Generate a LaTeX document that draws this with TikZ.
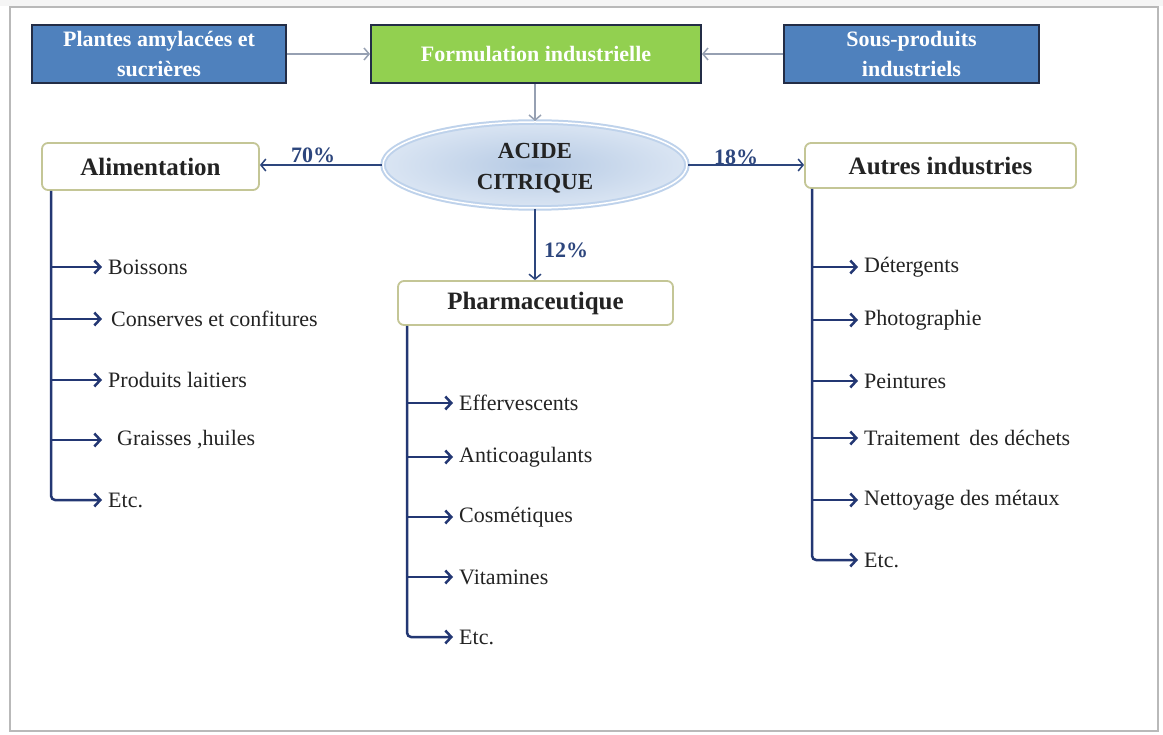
\documentclass[tikz,border=0pt]{standalone}
\usepackage{fontspec}
\setmainfont{Liberation Serif}
\usetikzlibrary{arrows.meta,shapes.geometric}
\definecolor{boxblue}{RGB}{79,129,189}
\definecolor{boxgreen}{RGB}{146,208,80}
\definecolor{boxedge}{RGB}{35,45,70}
\definecolor{navy}{RGB}{35,55,115}
\definecolor{pctblue}{RGB}{45,70,125}
\definecolor{arrgray}{RGB}{150,160,178}
\definecolor{hdrborder}{RGB}{196,198,150}
\definecolor{ellin}{RGB}{182,202,228}
\definecolor{ellout}{RGB}{218,229,243}
\definecolor{ellrim}{RGB}{190,210,235}
\definecolor{txt}{RGB}{35,35,35}
\definecolor{frame}{RGB}{185,185,185}
\begin{document}
\begin{tikzpicture}[x=1pt,y=-1pt,
  topbox/.style={draw=boxedge, line width=2pt, minimum height=58pt, text=white,
    font=\fontsize{22}{30}\selectfont\bfseries, align=center, inner sep=2pt},
  hdr/.style={draw=hdrborder, line width=1.8pt, rounded corners=6pt, fill=white,
    font=\fontsize{25}{28}\selectfont\bfseries, text=txt},
  item/.style={anchor=west, inner xsep=6pt, inner ysep=0pt,
    font=\fontsize{22}{24}\selectfont, text=txt},
  branch/.style={draw=navy, line width=2.5pt, rounded corners=4pt,
    -{Straight Barb[length=6pt,width=13pt]}},
  grayarrow/.style={draw=arrgray, line width=1.5pt, -{Straight Barb[length=5pt,width=12pt]}},
  pctarrow/.style={draw=pctblue, line width=1.5pt, -{Straight Barb[length=5pt,width=12pt]}},
  pct/.style={font=\fontsize{22}{24}\selectfont\bfseries, text=pctblue}]
\useasboundingbox (0,0) rectangle (1163,735);
\fill[white] (0,0) rectangle (1163,735);
\fill[gray!8] (0,0) rectangle (1163,6);
\draw[frame, line width=1.5pt] (10,7) rectangle (1158,731);

% top row
\node[topbox, fill=boxblue, minimum width=254pt] (plantes) at (159,54) {Plantes amylacées et\\sucrières};
\node[topbox, fill=boxgreen, minimum width=330pt] (formul) at (536,54) {Formulation industrielle};
\node[topbox, fill=boxblue, minimum width=255pt] (sousp) at (911.5,54) {Sous-produits\\industriels};
\draw[grayarrow] (plantes) -- (formul);
\draw[grayarrow] (sousp) -- (formul);

% central ellipse
\node[ellipse, minimum width=304pt, minimum height=86pt, inner color=ellin, outer color=ellout,
  draw=ellrim, line width=2pt, double=white, double distance=1.5pt] (acide) at (535,165) {};
\node[font=\fontsize{23}{31}\selectfont\bfseries, text=txt, align=center] (acidetxt)
  at ([yshift=-3pt]acide.center) {ACIDE\\CITRIQUE};
\draw[grayarrow] (formul.south -| acide.north) -- (acide.north);

% category headers
\node[hdr, minimum width=217pt, minimum height=47pt] (alim) at (150.5,166.5) {Alimentation};
\node[hdr, minimum width=275pt, minimum height=44pt] (pharma) at (535.5,303) {Pharmaceutique};
\node[hdr, minimum width=271pt, minimum height=45pt] (autres) at (940.5,165.5) {Autres industries};

\draw[pctarrow] (acide.west) -- (alim.east |- acide.west);
\draw[pctarrow] (acide.east) -- (autres.west |- acide.east);
\draw[pctarrow] (acide.south) -- (acide.south |- pharma.north);
\node[pct] (p70) at (313,155) {70\%};
\node[pct] (p18) at (736,157) {18\%};
\node[pct] (p12) at (566,250) {12\%};

% Alimentation items
\node[item] (a1) at (102,267) {Boissons};
\node[item] (a2) at (102,319) {\hspace{3pt}Conserves et confitures};
\node[item] (a3) at (102,380) {Produits laitiers};
\node[item] (a4) at (102,440) {\hspace{9pt}Graisses ,huiles};
\node[item] (a5) at (102,500) {Etc.};
\coordinate (alimv) at ([xshift=10pt]alim.south west);
\draw[branch] (alimv) |- (a5.west);
\foreach \i in {1,...,4} { \draw[branch] (alimv |- a\i.west) -- (a\i.west); }

% Pharmaceutique items
\node[item] (b1) at (453,403) {Effervescents};
\node[item] (b2) at (453,457) {Anticoagulants};
\node[item] (b3) at (453,517) {Cosmétiques};
\node[item] (b4) at (453,577) {Vitamines};
\node[item] (b5) at (453,637) {Etc.};
\coordinate (pharv) at ([xshift=10pt]pharma.south west);
\draw[branch] (pharv) |- (b5.west);
\foreach \i in {1,...,4} { \draw[branch] (pharv |- b\i.west) -- (b\i.west); }

% Autres items
\node[item] (c1) at (858,267) {Détergents};
\node[item] (c2) at (858,320) {Photographie};
\node[item] (c3) at (858,381) {Peintures};
\node[item] (c4) at (858,438) {Traitement\hspace{4pt} des déchets};
\node[item] (c5) at (858,500) {Nettoyage des métaux};
\node[item] (c6) at (858,560) {Etc.};
\coordinate (autv) at ([xshift=8pt]autres.south west);
\draw[branch] (autv) |- (c6.west);
\foreach \i in {1,...,5} { \draw[branch] (autv |- c\i.west) -- (c\i.west); }
\end{tikzpicture}
\end{document}
